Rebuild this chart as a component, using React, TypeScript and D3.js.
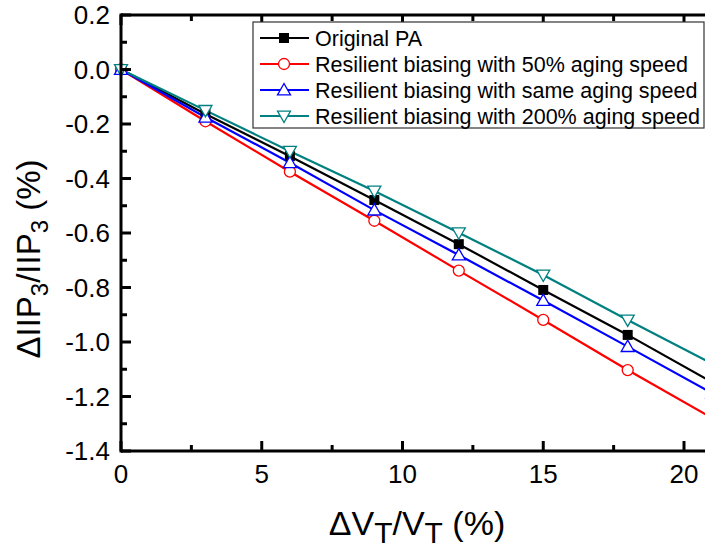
import React from 'react';
import * as d3 from 'd3';

// values
const xValues = [0, 3, 6, 9, 12, 15, 18, 21];
const originalPA = [0, -0.163, -0.318, -0.479, -0.641, -0.809, -0.974, -1.148];
const biasing50 = [0, -0.19, -0.375, -0.555, -0.738, -0.919, -1.103, -1.279];
const biasingSame = [0, -0.175, -0.342, -0.516, -0.681, -0.848, -1.017, -1.188];
const biasing200 = [0, -0.15, -0.3, -0.446, -0.599, -0.754, -0.919, -1.08];

const seriesNames = [
  'Original PA',
  'Resilient biasing with 50% aging speed',
  'Resilient biasing with same aging speed',
  'Resilient biasing with 200% aging speed',
];
const seriesColors = ['#000000', '#ff0000', '#0000ff', '#008080'];
const seriesMarkers = ['square', 'circle', 'triangleUp', 'triangleDown'];
const seriesValues = [originalPA, biasing50, biasingSame, biasing200];

const xTicks = [0, 5, 10, 15, 20];
const xMinorTicks = [2.5, 7.5, 12.5, 17.5];
const yTicks = [0.2, 0, -0.2, -0.4, -0.6, -0.8, -1.0, -1.2, -1.4];
const yMinorTicks = [0.1, -0.1, -0.3, -0.5, -0.7, -0.9, -1.1, -1.3];

const W = 705;
const H = 550;
const font = 'Arial, "Liberation Sans", sans-serif';

function Marker({ type, x, y, color }: { type: string; x: number; y: number; color: string }) {
  if (type === 'square') {
    return <rect x={x - 5} y={y - 5} width={10} height={10} fill={color} />;
  }
  if (type === 'circle') {
    return <circle cx={x} cy={y} r={5.5} fill="white" stroke={color} strokeWidth={1.3} />;
  }
  const s = 6.5;
  const pts =
    type === 'triangleUp'
      ? `${x},${y - s} ${x - s},${y + s * 0.75} ${x + s},${y + s * 0.75}`
      : `${x},${y + s} ${x - s},${y - s * 0.75} ${x + s},${y - s * 0.75}`;
  return <polygon points={pts} fill="white" stroke={color} strokeWidth={1.3} />;
}

export default function App() {
  const x = d3.scaleLinear().domain([0, 20]).range([121, 684]);
  const y = d3.scaleLinear().domain([0.2, -1.4]).range([15, 451]);

  const line = d3
    .line<number>()
    .x((_, i) => x(xValues[i]))
    .y((d) => y(d));

  const left = x(0);
  const bottom = y(-1.4);
  const top = y(0.2);
  const right = W + 10;

  return (
    <svg
      width={W}
      height={H}
      style={{ position: 'absolute', left: 0, top: 0, background: 'white' }}
      fontFamily={font}
    >
      {/* series lines */}
      {seriesValues.map((vals, si) => (
        <path key={si} d={line(vals) || ''} fill="none" stroke={seriesColors[si]} strokeWidth={2.2} />
      ))}
      {seriesValues.map((vals, si) =>
        vals.map((v, i) => (
          <Marker key={si + '-' + i} type={seriesMarkers[si]} x={x(xValues[i])} y={y(v)} color={seriesColors[si]} />
        ))
      )}

      {/* frame */}
      <line x1={left} x2={right} y1={bottom} y2={bottom} stroke="black" strokeWidth={3} />
      <line x1={left} x2={right} y1={top} y2={top} stroke="black" strokeWidth={3} />
      <line x1={left} x2={left} y1={top - 1.5} y2={bottom + 1.5} stroke="black" strokeWidth={3} />

      {/* x ticks */}
      {xTicks.map((t) => (
        <g key={'xt' + t}>
          <line x1={x(t)} x2={x(t)} y1={bottom} y2={bottom - 10} stroke="black" strokeWidth={3} />
          <line x1={x(t)} x2={x(t)} y1={top} y2={top + 10} stroke="black" strokeWidth={3} />
          <text x={x(t)} y={483} fontSize={26} textAnchor="middle">
            {t}
          </text>
        </g>
      ))}
      {xMinorTicks.map((t) => (
        <g key={'xm' + t}>
          <line x1={x(t)} x2={x(t)} y1={bottom} y2={bottom - 6} stroke="black" strokeWidth={3} />
          <line x1={x(t)} x2={x(t)} y1={top} y2={top + 6} stroke="black" strokeWidth={3} />
        </g>
      ))}

      {/* y ticks */}
      {yTicks.map((t) => (
        <g key={'yt' + t}>
          <line x1={left} x2={left + 10} y1={y(t)} y2={y(t)} stroke="black" strokeWidth={3} />
          <text x={110} y={y(t) + 9} fontSize={26} textAnchor="end">
            {d3.format('.1f')(t).replace('−', '-')}
          </text>
        </g>
      ))}
      {yMinorTicks.map((t) => (
        <line key={'ym' + t} x1={left} x2={left + 6} y1={y(t)} y2={y(t)} stroke="black" strokeWidth={3} />
      ))}

      {/* axis titles */}
      <text x={417} y={535} fontSize={34} textAnchor="middle">
        ΔV<tspan dy={8} fontSize={30}>T</tspan>
        <tspan dy={-8}>/V</tspan>
        <tspan dy={8} fontSize={30}>T</tspan>
        <tspan dy={-8}> (%)</tspan>
      </text>
      <text transform="translate(40,259) rotate(-90)" fontSize={33} textAnchor="middle">
        ΔIIP<tspan dy={8} fontSize={24}>3</tspan>
        <tspan dy={-8}>/IIP</tspan>
        <tspan dy={8} fontSize={24}>3</tspan>
        <tspan dy={-8}> (%)</tspan>
      </text>

      {/* legend */}
      <rect x={253} y={22} width={451} height={106} fill="white" stroke="#333" strokeWidth={1.2} />
      {seriesNames.map((name, si) => {
        const ly = 38 + si * 26;
        return (
          <g key={'lg' + si}>
            <line x1={260} x2={309} y1={ly} y2={ly} stroke={seriesColors[si]} strokeWidth={2.2} />
            <Marker type={seriesMarkers[si]} x={284} y={ly} color={seriesColors[si]} />
            <text x={315} y={ly + 8} fontSize={21.5}>
              {name}
            </text>
          </g>
        );
      })}
    </svg>
  );
}
